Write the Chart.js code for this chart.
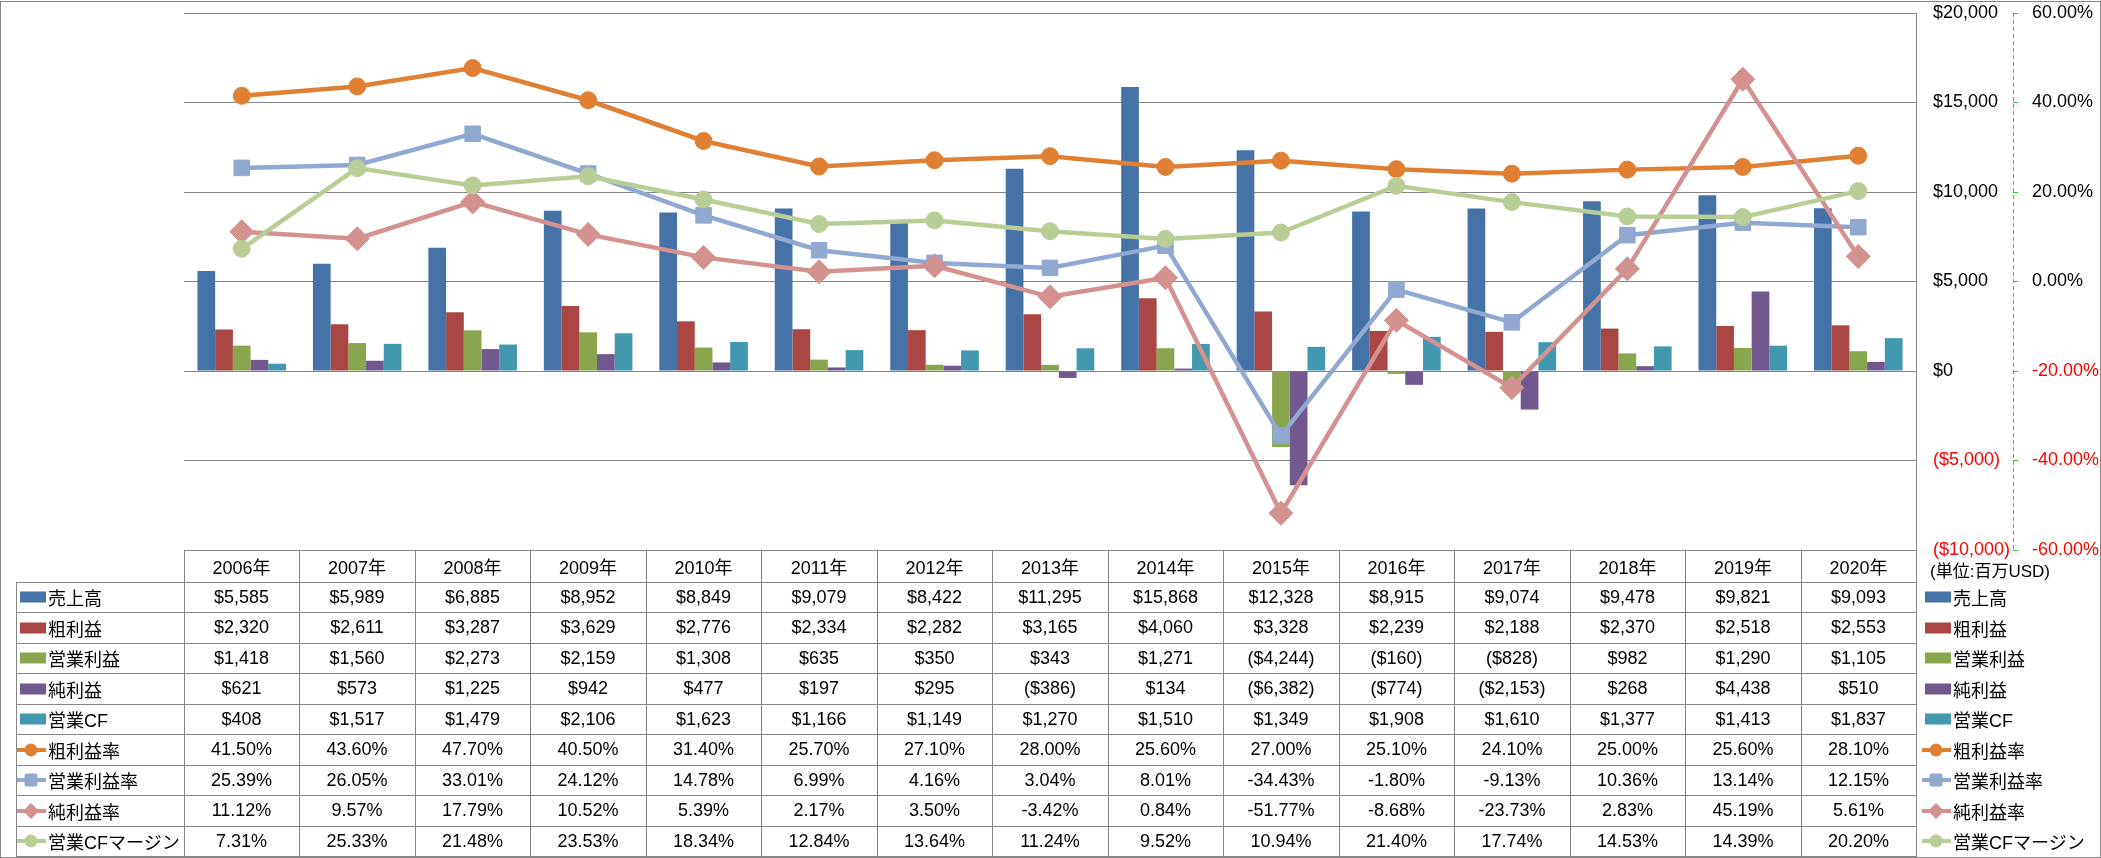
<!DOCTYPE html>
<html>
<head>
<meta charset="utf-8">
<title>売上高・利益・CFの推移 2006-2020</title>
<script src="https://cdn.jsdelivr.net/npm/chart.js"></script>
<style>
    body {
        margin: 0;
        background: #ffffff;
        font-family: "Liberation Sans", "Noto Sans CJK JP", sans-serif;
    }

    #stage {
        position: relative;
        width: 2101px;
        height: 858px;
        overflow: hidden;
    }

    #chart {
        position: absolute;
        left: 0;
        top: 0;
    }

    #frame {
        position: absolute;
        left: 0;
        top: 1px;
        width: 2099px;
        height: 855px;
        border: 1px solid #868686;
        pointer-events: none;
    }

    .rule {
        position: absolute;
        background: #868686;
    }

    .cell {
        position: absolute;
        display: flex;
        align-items: center;
        justify-content: center;
        font-size: 18px;
        color: #000000;
        white-space: nowrap;
    }

    .cell.key {
        justify-content: flex-start;
    }

    .cell.key svg {
        flex: none;
        margin-right: 1px;
    }

    #unit {
        position: absolute;
        font-size: 17px;
        line-height: 20px;
        white-space: nowrap;
    }
</style>
</head>
<body>
<div id="stage">
    <canvas id="chart" width="2101" height="858"></canvas>
    <div id="table"></div>
    <div id="frame"></div>
</div>

<script>
    // data (百万USD / %)
    const years = ['2006年', '2007年', '2008年', '2009年', '2010年', '2011年', '2012年', '2013年',
        '2014年', '2015年', '2016年', '2017年', '2018年', '2019年', '2020年'];

    const sales = [5585, 5989, 6885, 8952, 8849, 9079, 8422, 11295, 15868, 12328, 8915, 9074, 9478, 9821, 9093];
    const grossProfit = [2320, 2611, 3287, 3629, 2776, 2334, 2282, 3165, 4060, 3328, 2239, 2188, 2370, 2518, 2553];
    const operatingProfit = [1418, 1560, 2273, 2159, 1308, 635, 350, 343, 1271, -4244, -160, -828, 982, 1290, 1105];
    const netProfit = [621, 573, 1225, 942, 477, 197, 295, -386, 134, -6382, -774, -2153, 268, 4438, 510];
    const operatingCF = [408, 1517, 1479, 2106, 1623, 1166, 1149, 1270, 1510, 1349, 1908, 1610, 1377, 1413, 1837];

    const grossMargin = [41.50, 43.60, 47.70, 40.50, 31.40, 25.70, 27.10, 28.00, 25.60, 27.00, 25.10, 24.10, 25.00, 25.60, 28.10];
    const operatingMargin = [25.39, 26.05, 33.01, 24.12, 14.78, 6.99, 4.16, 3.04, 8.01, -34.43, -1.80, -9.13, 10.36, 13.14, 12.15];
    const netMargin = [11.12, 9.57, 17.79, 10.52, 5.39, 2.17, 3.50, -3.42, 0.84, -51.77, -8.68, -23.73, 2.83, 45.19, 5.61];
    const cfMargin = [7.31, 25.33, 21.48, 23.53, 18.34, 12.84, 13.64, 11.24, 9.52, 10.94, 21.40, 17.74, 14.53, 14.39, 20.20];

    const moneyTicks = [-10000, 20000, 5000];   // min, max, step
    const percentTicks = [-60, 60, 20];

    const series = [
        { label: '売上高', data: sales, kind: 'bar', color: '#4572A7' },
        { label: '粗利益', data: grossProfit, kind: 'bar', color: '#AA4643' },
        { label: '営業利益', data: operatingProfit, kind: 'bar', color: '#89A54E' },
        { label: '純利益', data: netProfit, kind: 'bar', color: '#71588F' },
        { label: '営業CF', data: operatingCF, kind: 'bar', color: '#4198AF' },
        { label: '粗利益率', data: grossMargin, kind: 'line', color: '#E08034', point: 'circle', r: 8.5 },
        { label: '営業利益率', data: operatingMargin, kind: 'line', color: '#91A8D0', point: 'rect', r: 11 },
        { label: '純利益率', data: netMargin, kind: 'line', color: '#D39190', point: 'rectRot', r: 12 },
        { label: '営業CFマージン', data: cfMargin, kind: 'line', color: '#B9CD96', point: 'circle', r: 8.5 }
    ];

    const axisGreen = '#1ddc1d';

    function fmtMoney(v) {
        const s = '$' + Math.abs(v).toLocaleString('en-US');
        return v < 0 ? '(' + s + ')' : s;
    }

    function fmtPct(v) {
        return v.toFixed(2) + '%';
    }

    const negRed = (c) => (c.tick && c.tick.value < 0 ? '#ff0000' : '#000000');

    // chart.js has no dashed axis line, so the % axis line is stroked here
    const dashedAxis = {
        id: 'dashedAxis',
        afterDraw(chart) {
            const s = chart.scales.y1;
            const ctx = chart.ctx;
            const x = Math.round(s.left) + 0.5;
            ctx.save();
            ctx.strokeStyle = axisGreen;
            ctx.lineWidth = 1;
            ctx.setLineDash([4, 3]);
            ctx.beginPath();
            ctx.moveTo(x, s.top);
            ctx.lineTo(x, s.bottom);
            ctx.stroke();
            ctx.restore();
        }
    };

    Chart.defaults.font.family = '"Liberation Sans", "Noto Sans CJK JP", sans-serif';

    const chart = new Chart(document.getElementById('chart'), {
        type: 'bar',
        data: {
            labels: years,
            datasets: series.map((s, i) => s.kind === 'bar' ? {
                type: 'bar',
                label: s.label,
                data: s.data,
                backgroundColor: s.color,
                yAxisID: 'y',
                order: 10,
                categoryPercentage: 0.767,
                barPercentage: 1
            } : {
                type: 'line',
                label: s.label,
                data: s.data,
                borderColor: s.color,
                backgroundColor: s.color,
                borderWidth: 4.5,
                pointStyle: s.point,
                pointRadius: s.r,
                pointBorderWidth: 1,
                pointBackgroundColor: s.color,
                pointBorderColor: s.color,
                yAxisID: 'y1',
                order: series.length - i
            })
        },
        options: {
            responsive: false,
            animation: false,
            layout: { padding: { left: 184, top: 13, right: 1, bottom: 308 } },
            plugins: {
                legend: { display: false },
                tooltip: { enabled: false }
            },
            scales: {
                x: { display: false, offset: true },
                y: {
                    position: 'right',
                    weight: 0,
                    min: moneyTicks[0],
                    max: moneyTicks[1],
                    ticks: { stepSize: moneyTicks[2], padding: 17, font: { size: 18 }, color: negRed, callback: (v) => fmtMoney(v) },
                    grid: { color: '#868686', drawTicks: false },
                    border: { color: '#868686' },
                    afterFit: (a) => { a.width = 97; a.paddingTop = 0; a.paddingBottom = 0; }
                },
                y1: {
                    position: 'right',
                    weight: 1,
                    min: percentTicks[0],
                    max: percentTicks[1],
                    ticks: { stepSize: percentTicks[2], padding: 14, font: { size: 18 }, color: negRed, callback: (v) => fmtPct(v) },
                    grid: { drawOnChartArea: false, color: axisGreen, tickLength: 5 },
                    border: { display: false },
                    afterFit: (a) => { a.width = 87; a.paddingTop = 0; a.paddingBottom = 0; }
                }
            }
        },
        plugins: [dashedAxis]
    });

    function keySvg(s) {
        if (s.kind === 'bar') {
            return `<svg width="30" height="16"><rect x="3" y="2.5" width="26" height="11" fill="${s.color}"/></svg>`;
        }
        let mark;
        if (s.point === 'circle') mark = `<circle cx="14" cy="8" r="6.5" fill="${s.color}"/>`;
        else if (s.point === 'rect') mark = `<rect x="7.5" y="1.5" width="13" height="13" rx="2" fill="${s.color}"/>`;
        else mark = `<polygon points="14,0 22,8 14,16 6,8" fill="${s.color}"/>`;
        return `<svg width="30" height="16"><line x1="0" y1="8" x2="29" y2="8" stroke="${s.color}" stroke-width="4"/>${mark}</svg>`;
    }

    // data table under the plot, columns taken from the x scale
    function buildTable(chart) {
        const box = document.getElementById('table');
        const area = chart.chartArea;
        const xs = chart.scales.x;
        const half = (area.right - area.left) / years.length / 2;
        const cols = years.map((_, i) => Math.round(xs.getPixelForValue(i) - half));
        cols.push(Math.round(area.right));

        const labelLeft = 16;
        const top = Math.round(area.bottom);
        const headBottom = top + 32;
        const bottom = 856;
        const rowH = (bottom - headBottom) / series.length;
        const rows = series.map((_, r) => Math.round(headBottom + r * rowH));
        rows.push(bottom);

        const last = cols[cols.length - 1];
        let html = '';
        const rule = (x, y, w, h) => `<div class="rule" style="left:${x}px;top:${y}px;width:${w}px;height:${h}px"></div>`;

        html += rule(cols[0], top, last - cols[0] + 1, 1);
        rows.forEach((y) => { html += rule(labelLeft, y, last - labelLeft + 1, 1); });
        html += rule(labelLeft, headBottom, 1, bottom - headBottom + 1);
        cols.forEach((x) => { html += rule(x, top, 1, bottom - top + 1); });

        years.forEach((y, i) => {
            html += `<div class="cell" style="left:${cols[i]}px;top:${top}px;width:${cols[i + 1] - cols[i]}px;height:${headBottom - top}px">${y}</div>`;
        });

        series.forEach((s, r) => {
            const y = rows[r];
            const h = rows[r + 1] - y;
            html += `<div class="cell key" style="left:${labelLeft + 1}px;top:${y}px;width:${cols[0] - labelLeft - 1}px;height:${h}px">${keySvg(s)}${s.label}</div>`;
            s.data.forEach((v, i) => {
                const txt = s.kind === 'bar' ? fmtMoney(v) : fmtPct(v);
                html += `<div class="cell" style="left:${cols[i]}px;top:${y}px;width:${cols[i + 1] - cols[i]}px;height:${h}px">${txt}</div>`;
            });
            html += `<div class="cell key" style="left:${last + 6}px;top:${y}px;width:${2100 - last - 6}px;height:${h}px">${keySvg(s)}${s.label}</div>`;
        });

        html += `<div id="unit" style="left:${last + 14}px;top:${top + 12}px">(単位:百万USD)</div>`;
        box.innerHTML = html;
    }

    buildTable(chart);
</script>
</body>
</html>
